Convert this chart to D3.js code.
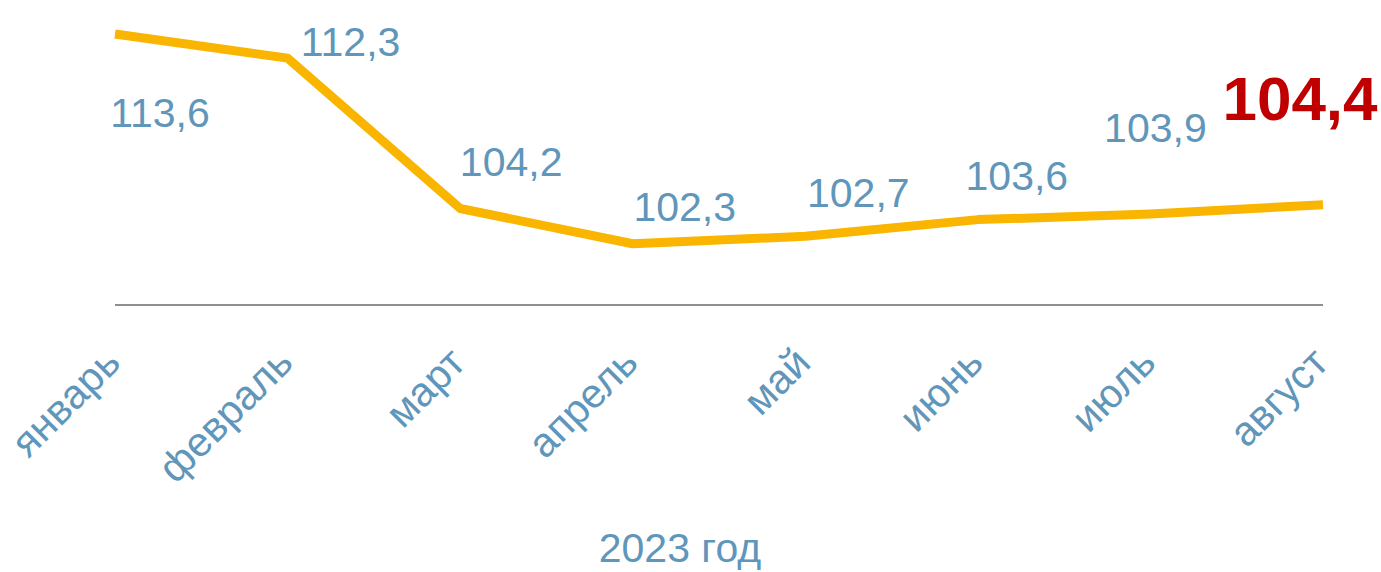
<!DOCTYPE html>
<html>
<head>
<meta charset="utf-8">
<script src="https://cdn.jsdelivr.net/npm/d3@7"></script>
<style>
  body { margin: 0; background: #fff; }
  svg { display: block; font-family: "Liberation Sans", Arial, sans-serif; }
</style>
</head>
<body>
<svg id="chart" width="1381" height="572"></svg>
<script>
// data
const months = ["январь", "февраль", "март", "апрель", "май", "июнь", "июль", "август"];
const values = [113.6, 112.3, 104.2, 102.3, 102.7, 103.6, 103.9, 104.4];
const valueLabels = ["113,6", "112,3", "104,2", "102,3", "102,7", "103,6", "103,9", "104,4"];
const axisTitle = "2023 год";

// manual label placement (dx, dy from the point, text centre / baseline)
const labelOffsets = [[45, 93], [63, -2], [51, -32], [52, -23], [53, -29], [39, -30], [5, -72], [-23, -85]];

const svg = d3.select("#chart");
const blue = "#6096ba"; // label colour

const x = d3.scalePoint()
    .domain(months)
    .range([115, 1323]);

const y = d3.scaleLinear()
    .domain([99, 115])
    .range([305, 8]);

// baseline
svg.append("line")
    .attr("x1", 115)
    .attr("x2", 1323)
    .attr("y1", y(99))
    .attr("y2", y(99))
    .attr("stroke", "#8f8f8f")
    .attr("stroke-width", 2);

// category labels, rotated
const xAxis = svg.append("g")
    .attr("transform", `translate(0,${y(99)})`)
    .call(d3.axisBottom(x).tickSize(0).tickPadding(0));
xAxis.select(".domain").remove();
xAxis.selectAll("text")
    .attr("font-size", 41)
    .attr("font-family", "Liberation Sans, Arial, sans-serif")
    .attr("fill", blue)
    .attr("text-anchor", "end")
    .attr("dy", 0)
    .attr("y", 0)
    .attr("transform", "translate(7,60) rotate(-45)");

// the line
const line = d3.line()
    .x((d, i) => x(months[i]))
    .y(d => y(d));

svg.append("path")
    .datum(values)
    .attr("d", line)
    .attr("fill", "none")
    .attr("stroke", "#f9b500")
    .attr("stroke-width", 9)
    .attr("stroke-linejoin", "round");

// value labels
svg.selectAll(".vlabel")
    .data(values)
    .enter()
    .append("text")
    .attr("class", "vlabel")
    .attr("x", (d, i) => x(months[i]) + labelOffsets[i][0])
    .attr("y", (d, i) => y(d) + labelOffsets[i][1])
    .attr("text-anchor", "middle")
    .attr("font-size", (d, i) => i === values.length - 1 ? 62 : 41)
    .attr("font-weight", (d, i) => i === values.length - 1 ? "bold" : "normal")
    .attr("fill", (d, i) => i === values.length - 1 ? "#c00000" : blue)
    .text((d, i) => valueLabels[i]);

// axis title
svg.append("text")
    .attr("x", 680)
    .attr("y", 562)
    .attr("text-anchor", "middle")
    .attr("font-size", 41)
    .attr("fill", blue)
    .text(axisTitle);
</script>
</body>
</html>
